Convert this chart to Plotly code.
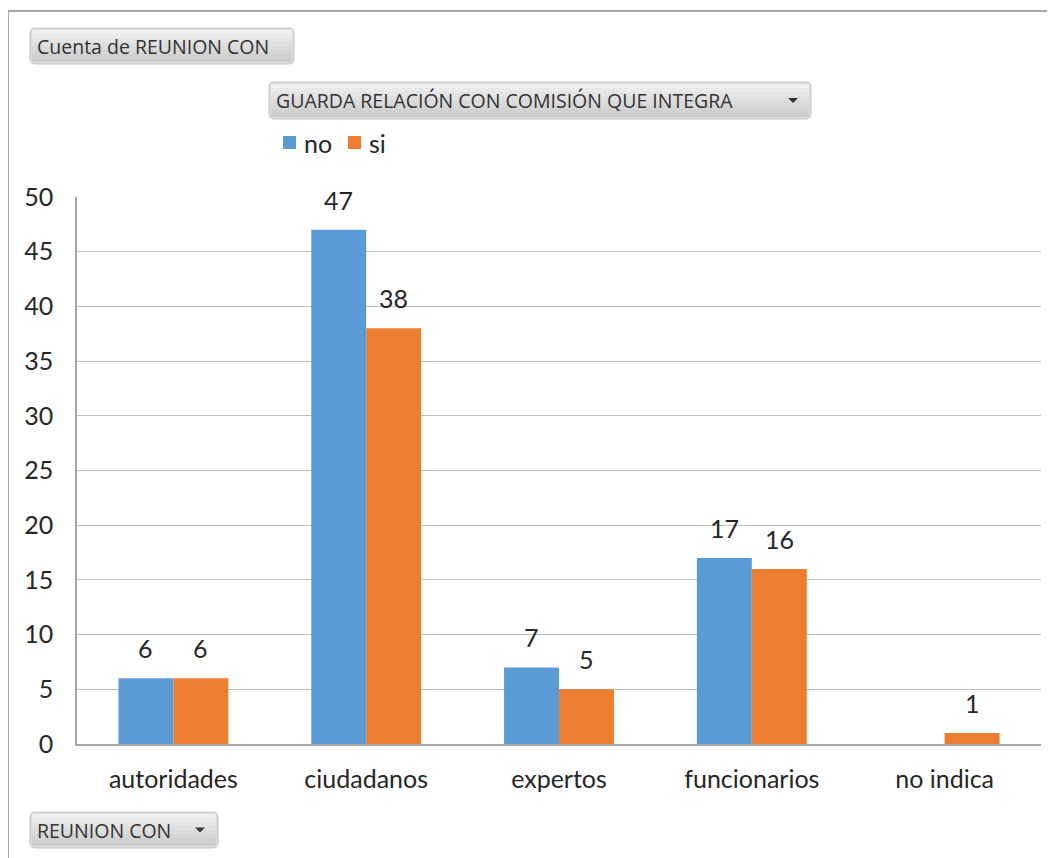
import plotly.graph_objects as go

# ---- data ----
categories = ["autoridades", "ciudadanos", "expertos", "funcionarios", "no indica"]
series_names = ["no", "si"]
values_no = [6, 47, 7, 17, None]
values_si = [6, 38, 5, 16, 1]
y_ticks = [0, 5, 10, 15, 20, 25, 30, 35, 40, 45, 50]
colors = ["#5B9BD5", "#ED7D31"]

# page body has an 8px margin: work in screen pixels and shift
OFF = 8
W, H = 1055 - OFF, 858 - OFF
L, R, T, B = 77 - OFF, 1041 - OFF, 197 - OFF, 744 - OFF


def px(x):
    return (x - OFF - L) / (R - L)


def py(y):
    return (B - (y - OFF)) / (B - T)


FONT = "Lato, Carlito, Calibri, sans-serif"
BFONT = "Open Sans, Tahoma, sans-serif"

fig = go.Figure()
for name, vals, col in zip(series_names, [values_no, values_si], colors):
    fig.add_trace(go.Bar(x=categories, y=vals, name=name, marker_color=col,
                         marker_line_width=0, showlegend=False, hoverinfo="x+y+name"))

annotations = []
shapes = []

# value labels
for i, (vals, sh) in enumerate(zip([values_no, values_si], [-27.5, 27.5])):
    for c, v in zip(categories, vals):
        if v is None:
            continue
        annotations.append(dict(x=c, y=v, xref="x", yref="y", text=str(v), showarrow=False,
                                xshift=sh, yshift=13, yanchor="bottom",
                                font=dict(family=FONT, size=25, color="#262626")))

# frame lines
shapes.append(dict(type="line", xref="paper", yref="paper", x0=px(8), x1=px(1070), y0=py(11), y1=py(11),
                   line=dict(color="#8C8C8C", width=1.5)))
shapes.append(dict(type="line", xref="paper", yref="paper", x0=px(8), x1=px(8), y0=py(11), y1=py(870),
                   line=dict(color="#8C8C8C", width=1.5)))


def button(x0, y0, x1, y1, text, arrow):
    r = 5
    path = (f"M {px(x0 + r)},{py(y0)} L {px(x1 - r)},{py(y0)} "
            f"Q {px(x1)},{py(y0)} {px(x1)},{py(y0 + r)} L {px(x1)},{py(y1 - r)} "
            f"Q {px(x1)},{py(y1)} {px(x1 - r)},{py(y1)} L {px(x0 + r)},{py(y1)} "
            f"Q {px(x0)},{py(y1)} {px(x0)},{py(y1 - r)} L {px(x0)},{py(y0 + r)} "
            f"Q {px(x0)},{py(y0)} {px(x0 + r)},{py(y0)} Z")
    shapes.append(dict(type="path", xref="paper", yref="paper", path=path,
                       fillcolor="#DCDCDC", line=dict(color="#C4C4C4", width=1), layer="below"))
    # gradient bands
    n = 8
    top, bot = y0 + 2, y1 - 2
    c0, c1 = (0xF0, 0xF0, 0xF0), (0xCC, 0xCC, 0xCC)
    for k in range(n):
        ya = top + (bot - top) * k / n
        yb = top + (bot - top) * (k + 1) / n
        t = k / (n - 1)
        col = tuple(int(c0[j] + (c1[j] - c0[j]) * t) for j in range(3))
        shapes.append(dict(type="rect", xref="paper", yref="paper",
                           x0=px(x0 + 2), x1=px(x1 - 2), y0=py(yb), y1=py(ya),
                           fillcolor="rgb(%d,%d,%d)" % col, line=dict(width=0), layer="below"))
    annotations.append(dict(x=px(x0 + 5), y=py((y0 + y1) / 2), xref="paper", yref="paper",
                            text=text, showarrow=False, xanchor="left", yanchor="middle",
                            font=dict(family=BFONT, size=19.5, color="#333333")))
    if arrow:
        ax = x1 - 18
        ay = (y0 + y1) / 2
        tri = (f"M {px(ax - 5)},{py(ay - 2.5)} L {px(ax + 5)},{py(ay - 2.5)} "
               f"L {px(ax)},{py(ay + 2.5)} Z")
        shapes.append(dict(type="path", xref="paper", yref="paper", path=tri,
                           fillcolor="#333333", line=dict(width=0)))


button(30, 28, 294, 64, "Cuenta de REUNION CON", False)
button(269, 82, 811, 119, "GUARDA RELACIÓN CON COMISIÓN QUE INTEGRA", True)
button(30, 812, 218, 848, "REUNION CON", True)

# manual legend
leg_x = [283, 348]
for name, col, lx in zip(series_names, colors, leg_x):
    shapes.append(dict(type="rect", xref="paper", yref="paper",
                       x0=px(lx), x1=px(lx + 13), y0=py(149), y1=py(136),
                       fillcolor=col, line=dict(width=0)))
    annotations.append(dict(x=px(lx + 19), y=py(143), xref="paper", yref="paper",
                            text=name, showarrow=False, xanchor="left", yanchor="middle",
                            font=dict(family=FONT, size=25, color="#262626")))

fig.update_layout(
    width=W, height=H,
    margin=dict(l=L, r=W - R, t=T, b=H - B),
    paper_bgcolor="white", plot_bgcolor="white",
    barmode="group", bargap=0.43, bargroupgap=0,
    font=dict(family=FONT, size=25, color="#262626"),
    shapes=shapes, annotations=annotations,
    xaxis=dict(showline=True, linecolor="#A6A6A6", linewidth=1.5, ticks="",
               tickfont=dict(family=FONT, size=25, color="#262626"),
               ticklabelstandoff=12, showgrid=False, mirror=False),
    yaxis=dict(range=[0, 50], tickvals=y_ticks, showline=True, linecolor="#A6A6A6", linewidth=1.5,
               gridcolor="#BFBFBF", gridwidth=1.2, zeroline=False, ticks="",
               tickfont=dict(family=FONT, size=25, color="#262626"),
               ticklabelstandoff=17, mirror=False),
)

fig.write_html("out.html")
